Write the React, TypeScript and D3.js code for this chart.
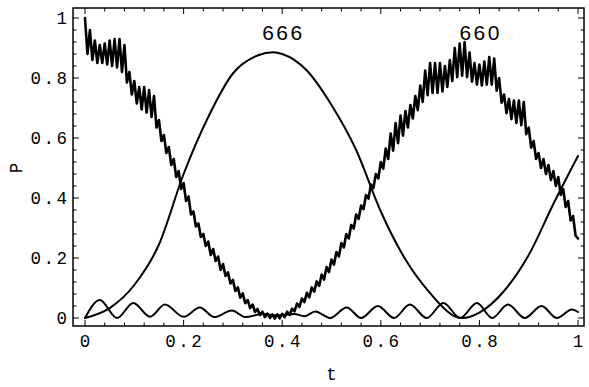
import React from "react";
import * as d3 from "d3";

const W = 589;
const H = 387;

// plot range (frame) in data units
const X_RANGE = [-0.0243, 1.0122];
const Y_RANGE = [-0.0267, 1.0333];

// tick values and labels
const X_MAJOR = [0, 0.2, 0.4, 0.6, 0.8, 1];
const X_LABELS = ["0", "0.2", "0.4", "0.6", "0.8", "1"];
const Y_MAJOR = [0, 0.2, 0.4, 0.6, 0.8, 1];
const Y_LABELS = ["0", "0.2", "0.4", "0.6", "0.8", "1"];
const MINOR_STEP = 0.04;

// smooth curve "666"
const T_666 = [0, 0.05, 0.1, 0.15, 0.2, 0.25, 0.3, 0.35, 0.382, 0.4, 0.45, 0.5, 0.55, 0.6, 0.65, 0.7, 0.75, 0.765, 0.8, 0.85, 0.9, 0.95, 1.0];
const P_666 = [0, 0.033, 0.11, 0.245, 0.48, 0.67, 0.815, 0.875, 0.886, 0.88, 0.825, 0.71, 0.56, 0.355, 0.195, 0.083, 0.006, 0, 0.018, 0.09, 0.21, 0.38, 0.54];

// noisy curve "660": local maxima at t = 0, 0.01, ..., 1 and minima at t = 0.005, 0.015, ..., 0.995
const PEAKS_660 = [
  1.0, 0.96, 0.925, 0.91, 0.915, 0.925, 0.93, 0.93, 0.91, 0.82,
  0.79, 0.77, 0.77, 0.76, 0.74, 0.66, 0.61, 0.57, 0.53, 0.49,
  0.45, 0.405, 0.355, 0.315, 0.28, 0.255, 0.23, 0.205, 0.18, 0.152,
  0.127, 0.102, 0.082, 0.06, 0.045, 0.03, 0.021, 0.015, 0.012, 0.012,
  0.014, 0.021, 0.031, 0.048, 0.065, 0.084, 0.102, 0.122, 0.145, 0.17,
  0.195, 0.22, 0.25, 0.28, 0.31, 0.345, 0.375, 0.41, 0.445, 0.48,
  0.52, 0.565, 0.615, 0.65, 0.675, 0.69, 0.71, 0.74, 0.775, 0.825,
  0.85, 0.85, 0.85, 0.84, 0.86, 0.9, 0.915, 0.92, 0.885, 0.85,
  0.845, 0.855, 0.87, 0.865, 0.8, 0.745, 0.73, 0.725, 0.725, 0.72,
  0.635, 0.59, 0.55, 0.53, 0.51, 0.49, 0.47, 0.43, 0.39, 0.34,
  0.265,
];
const TROUGHS_660 = [
  0.88, 0.86, 0.85, 0.85, 0.845, 0.84, 0.835, 0.82, 0.785, 0.745,
  0.715, 0.695, 0.685, 0.67, 0.635, 0.59, 0.55, 0.51, 0.47, 0.43,
  0.39, 0.345, 0.305, 0.27, 0.24, 0.21, 0.19, 0.16, 0.14, 0.115,
  0.09, 0.068, 0.049, 0.033, 0.02, 0.01, 0.003, 0.0, -0.002, -0.001,
  0.003, 0.01, 0.022, 0.037, 0.053, 0.069, 0.088, 0.107, 0.128, 0.153,
  0.178, 0.205, 0.235, 0.265, 0.298, 0.33, 0.363, 0.398, 0.433, 0.465,
  0.498, 0.53, 0.558, 0.583, 0.608, 0.635, 0.665, 0.693, 0.72, 0.743,
  0.75, 0.75, 0.755, 0.77, 0.79, 0.803, 0.808, 0.803, 0.788, 0.778,
  0.775, 0.778, 0.778, 0.758, 0.718, 0.683, 0.663, 0.65, 0.643, 0.613,
  0.568, 0.53, 0.5, 0.48, 0.46, 0.44, 0.41, 0.37, 0.325, 0.275,
];
const T_STEP_660 = 0.01;

// small oscillating curve
const T_SMALL = [0, 0.03, 0.065, 0.098, 0.132, 0.162, 0.2, 0.233, 0.262, 0.298, 0.325, 0.36, 0.39, 0.425, 0.445, 0.467, 0.497, 0.531, 0.56, 0.594, 0.627, 0.659, 0.693, 0.727, 0.761, 0.795, 0.826, 0.858, 0.892, 0.926, 0.957, 0.988, 1.0];
const P_SMALL = [0, 0.06, 0.0, 0.05, 0.004, 0.045, 0.004, 0.035, 0.003, 0.025, 0.003, 0.013, 0.008, 0.013, 0.006, 0.022, 0.0, 0.035, 0.0, 0.04, 0.0, 0.045, 0.0, 0.05, 0.0, 0.05, 0.0, 0.045, 0.0, 0.04, 0.0, 0.028, 0.02];

const LABELS = [
  { text: "666", t: 0.4 },
  { text: "660", t: 0.8 },
];

const MONO = "'Liberation Mono', 'DejaVu Sans Mono', monospace";
const SANS = "'Liberation Sans', Arial, sans-serif";

export default function App() {
  const x = d3.scaleLinear().domain([0, 1]).range([85, 578]);
  const y = d3.scaleLinear().domain([0, 1]).range([318, 18]);
  const fx0 = x(X_RANGE[0]);
  const fx1 = x(X_RANGE[1]);
  const fy0 = y(Y_RANGE[0]);
  const fy1 = y(Y_RANGE[1]);

  const smoothLine = d3
    .line<[number, number]>()
    .x((d) => x(d[0]))
    .y((d) => y(d[1]))
    .curve(d3.curveMonotoneX);
  const rawLine = d3
    .line<[number, number]>()
    .x((d) => x(d[0]))
    .y((d) => y(d[1]));

  const pts666: [number, number][] = T_666.map((t, i) => [t, P_666[i]]);
  const ptsSmall: [number, number][] = T_SMALL.map((t, i) => [t, P_SMALL[i]]);
  const pts660: [number, number][] = [];
  PEAKS_660.forEach((p, i) => {
    const t = i * T_STEP_660;
    pts660.push([t, p]);
    if (i < TROUGHS_660.length) pts660.push([t + T_STEP_660 / 2, TROUGHS_660[i]]);
  });

  const minor = d3.range(0, 1.0001, MINOR_STEP).filter(
    (v) => !X_MAJOR.some((m) => Math.abs(m - v) < 1e-6)
  );
  const MAJ = 6;
  const MIN = 3.5;
  const LS = 2.5;

  return (
    <svg
      width={W}
      height={H}
      style={{ position: "absolute", left: 0, top: 0, background: "#fff" }}
    >
      <rect x={0} y={0} width={W} height={H} fill="#fff" />
      <g stroke="#000" strokeWidth={1}>
        {X_MAJOR.map((v) => (
          <g key={"xm" + v}>
            <line x1={x(v)} x2={x(v)} y1={fy0} y2={fy0 - MAJ} />
            <line x1={x(v)} x2={x(v)} y1={fy1} y2={fy1 + MAJ} />
          </g>
        ))}
        {minor.map((v) => (
          <g key={"xn" + v}>
            <line x1={x(v)} x2={x(v)} y1={fy0} y2={fy0 - MIN} />
            <line x1={x(v)} x2={x(v)} y1={fy1} y2={fy1 + MIN} />
          </g>
        ))}
        {Y_MAJOR.map((v) => (
          <g key={"ym" + v}>
            <line x1={fx0} x2={fx0 + MAJ} y1={y(v)} y2={y(v)} />
            <line x1={fx1} x2={fx1 - MAJ} y1={y(v)} y2={y(v)} />
          </g>
        ))}
        {minor.map((v) => (
          <g key={"yn" + v}>
            <line x1={fx0} x2={fx0 + MIN} y1={y(v)} y2={y(v)} />
            <line x1={fx1} x2={fx1 - MIN} y1={y(v)} y2={y(v)} />
          </g>
        ))}
      </g>
      <rect
        x={fx0}
        y={fy1}
        width={fx1 - fx0}
        height={fy0 - fy1}
        fill="none"
        stroke="#000"
        strokeWidth={1.5}
      />
      <g fill="none" stroke="#000" strokeLinejoin="round" strokeLinecap="round">
        <path d={smoothLine(pts666) || ""} strokeWidth={2} />
        <path d={smoothLine(ptsSmall) || ""} strokeWidth={2} />
        <path d={rawLine(pts660) || ""} strokeWidth={2.6} />
      </g>
      <g fontFamily={MONO} fontSize={17.5} fill="#000">
        {X_MAJOR.map((v, i) => (
          <text
            key={"xl" + v}
            x={x(v) + LS / 2}
            y={347}
            textAnchor="middle"
            letterSpacing={LS}
          >
            {X_LABELS[i]}
          </text>
        ))}
        {Y_MAJOR.map((v, i) => (
          <text
            key={"yl" + v}
            x={67 + LS}
            y={y(v) + 5.5}
            textAnchor="end"
            letterSpacing={LS}
          >
            {Y_LABELS[i]}
          </text>
        ))}
        <text x={x(0.5)} y={380} textAnchor="middle">
          t
        </text>
        <text
          transform={`translate(22, ${y(0.5)}) rotate(-90)`}
          textAnchor="middle"
        >
          P
        </text>
      </g>
      <g fontFamily={SANS} fontSize={21} fill="#000">
        {LABELS.map((l) => (
          <text
            key={l.text}
            x={x(l.t) + 1.25}
            y={40}
            textAnchor="middle"
            letterSpacing={2.5}
          >
            {l.text}
          </text>
        ))}
      </g>
    </svg>
  );
}
